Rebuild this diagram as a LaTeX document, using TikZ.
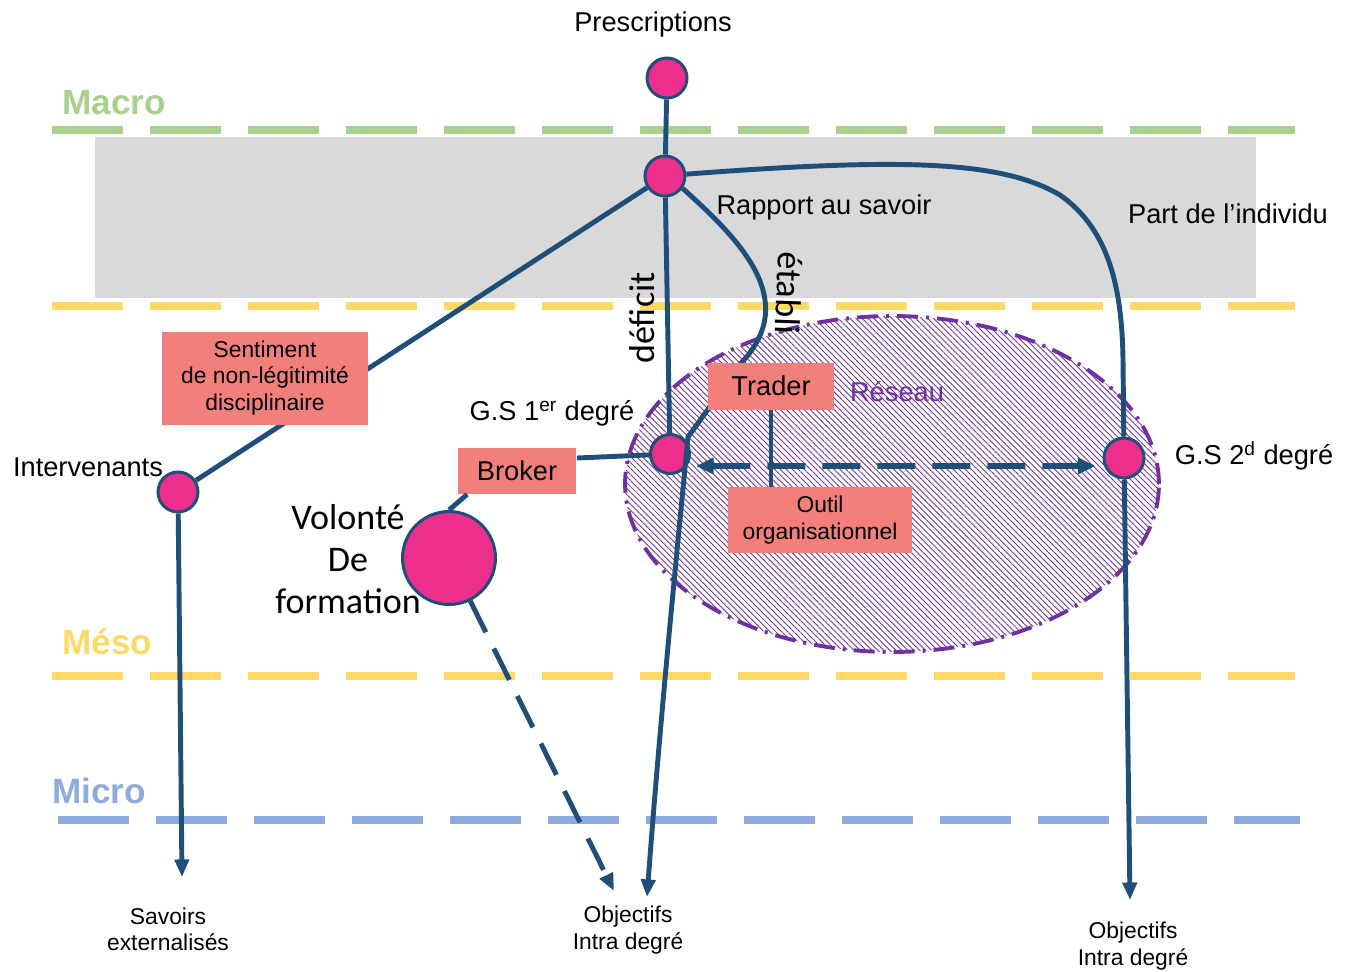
\documentclass[tikz,border=0pt]{standalone}
\usepackage{fontspec}
\setmainfont{Liberation Sans}
\newfontfamily\calibri{Carlito}
\usetikzlibrary{arrows.meta,patterns.meta}

\definecolor{bleufonce}{HTML}{1F4E79}
\definecolor{rosevif}{HTML}{EC2E8C}
\definecolor{saumon}{HTML}{F27F7A}
\definecolor{vertmacro}{HTML}{A9D18E}
\definecolor{jaunemeso}{HTML}{FFD966}
\definecolor{bleumicro}{HTML}{8FAADC}
\definecolor{violetreseau}{HTML}{7030A0}
\definecolor{grisbande}{HTML}{D9D9D9}

\begin{document}
\begin{tikzpicture}[x=0.02cm, y=-0.02cm]
    % --- 样式设置 ---
    \tikzstyle{niveau}=[line width=5pt, dash pattern=on 1.42cm off 0.54cm]
    \tikzstyle{lien}=[line width=2.8pt, bleufonce]
    \tikzstyle{fleche}=[lien, -{Triangle[length=10pt, width=8pt]}]
    \tikzstyle{pastille}=[circle, draw=bleufonce, line width=1.7pt, fill=rosevif, inner sep=0pt, minimum size=0.8cm]
    \tikzstyle{boite}=[rectangle, fill=saumon, align=center, inner sep=0pt]
    \tikzstyle{petit}=[font=\fontsize{13}{15}\selectfont, align=center]
    \tikzstyle{moyen}=[font=\fontsize{15.5}{18.6}\selectfont]
    \tikzstyle{titre}=[font=\fontsize{20}{24}\selectfont\bfseries, anchor=base west, inner sep=0pt]
    \tikzstyle{manuscrit}=[font=\calibri\fontsize{20.5}{24}\selectfont]

    \useasboundingbox (0,0) rectangle (1351,971);

    % 1. 灰色带 (Part de l'individu)
    \fill[grisbande] (95,137) rectangle (1256,298);

    % 2. 三个层次的虚线
    \draw[niveau, vertmacro] (52,130) -- (1295,130);
    \draw[niveau, jaunemeso] (52,306) -- (1295,306);
    \draw[niveau, jaunemeso] (52,676) -- (1295,676);
    \draw[niveau, bleumicro] (58,820) -- (1300,820);
    \node[titre, text=vertmacro] (macro) at (62,114) {Macro};
    \node[titre, text=jaunemeso] (meso) at (62,654) {Méso};
    \node[titre, text=bleumicro] (micro) at (52,803) {Micro};

    % 3. 网络 (椭圆, 斜线填充)
    \draw[violetreseau, line width=2.2pt, dash pattern=on 0.42cm off 0.16cm on 0.06cm off 0.16cm,
          pattern={Lines[angle=-45, distance=2.4pt, line width=0.5pt]}, pattern color=violetreseau]
          (892,484) ellipse [x radius=5.34cm, y radius=3.36cm];
    \node[moyen, text=violetreseau] (reseau) at (897,392) {Réseau};

    % 4. 圆点
    \node[pastille] (presc) at (667,78) {};
    \node[pastille] (rapport) at (665,176) {};
    \node[pastille] (interv) at (178,492) {};
    \node[pastille, minimum size=0.78cm] (gsun) at (670,454) {};
    \node[pastille] (gsdeux) at (1124,458) {};
    \node[pastille, minimum size=1.86cm] (volonte) at (449,558) {};

    \coordinate (finsavoirs) at (182,877);
    \coordinate (finobjun) at (647,897);
    \coordinate (finvolonte) at (614,891);
    \coordinate (finobjdeux) at (1130,900);

    % 5. 连线
    \draw[lien] (presc) -- (rapport);
    \draw[lien] (rapport) -- (interv);
    \draw[lien] (rapport) -- (gsun);
    \draw[fleche] (interv) -- (finsavoirs);
    \draw[fleche] (gsdeux) -- (finobjdeux);
    \draw[lien] (rapport.5) .. controls (900,158) and (1000,160) .. (1060,195)
        .. controls (1110,230) and (1122,290) .. (1123,360) -- (gsdeux);
    \draw[fleche, dash pattern=on 0.7cm off 0.36cm] (volonte) -- (finvolonte);
    \draw[fleche] (rapport.-35) .. controls (740,240) and (800,300) .. (742,362) -- (688,437)
        .. controls (680,520) and (660,720) .. (finobjun);
    \draw[lien, line width=3.2pt, dash pattern=on 0.76cm off 0.34cm,
          {Triangle[length=10pt, width=9pt]}-{Triangle[length=10pt, width=9pt]}]
          ([xshift=0.1cm, yshift=-0.24cm]gsun.east) -- ([xshift=-0.14cm, yshift=-0.16cm]gsdeux.west);

    % 6. 方框
    \node[boite, petit, minimum width=4.12cm, minimum height=1.86cm] (sentiment) at (265,378)
        {Sentiment\\de non-légitimité\\disciplinaire};
    \node[boite, moyen, minimum width=2.38cm, minimum height=0.92cm] (broker) at (517,471) {Broker};
    \node[boite, moyen, minimum width=2.52cm, minimum height=0.94cm] (trader) at (771,386) {Trader};
    \node[boite, petit, minimum width=3.68cm, minimum height=1.32cm] (outil) at (820,520)
        {Outil\\organisationnel};
    \draw[lien] (trader.south) -- (outil.north -| trader.south);
    \draw[lien] ([yshift=0.26cm]broker.east) -- (gsun);
    \draw[lien] (volonte.north) -- ([xshift=0.2cm]broker.south west);

    % 7. 文字标注
    \node[moyen] (lprescriptions) at (653,24) {Prescriptions};
    \node[moyen] (lrapport) at (824,207) {Rapport au savoir};
    \node[moyen] (lindividu) at (1228,214) {Part de l’individu};
    \node[moyen] (lintervenants) at (88,467) {Intervenants};
    \node[moyen] (lgsun) at (552,413) {G.S 1\textsuperscript{er} degré};
    \node[moyen] (lgsdeux) at (1254,456) {G.S 2\textsuperscript{d} degré};
    \node[manuscrit, align=center] (lvolonte) at (348,559) {Volonté\\De\\formation};
    \node[manuscrit, rotate=90] (ldeficit) at (642,318) {déficit};
    \node[manuscrit, rotate=-92] (letabli) at (789,293) {établi};
    \node[petit] (lsavoirs) at (168,929) {Savoirs\\externalisés};
    \node[petit] (lobjun) at (628,930) {Objectifs\\Intra degré};
    \node[petit] (lobjdeux) at (1133,946) {Objectifs\\Intra degré};
\end{tikzpicture}
\end{document}
